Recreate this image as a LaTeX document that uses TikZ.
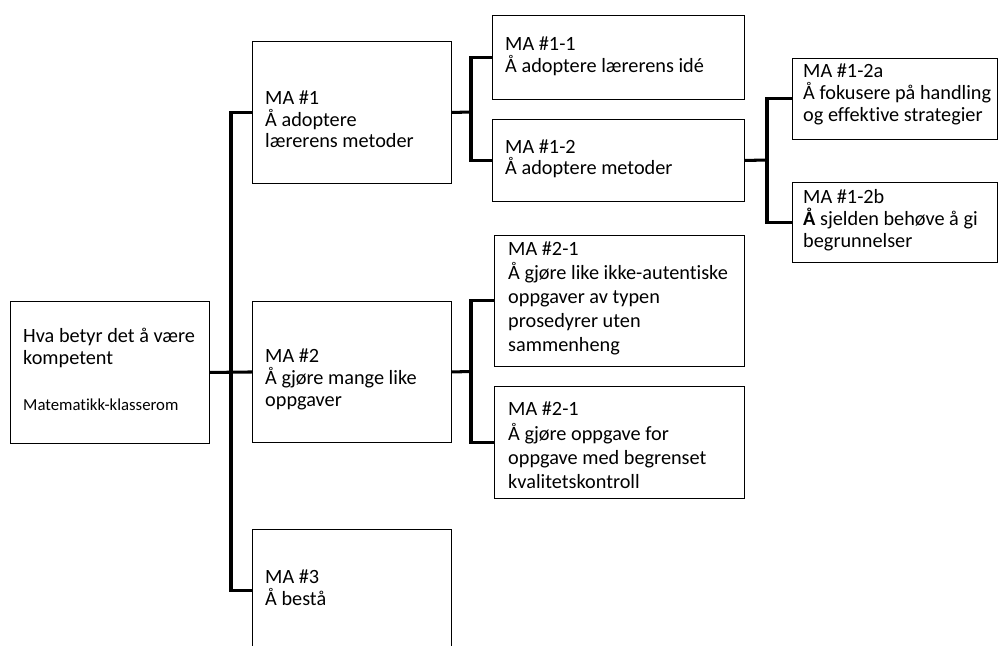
\documentclass[tikz,border=0pt]{standalone}
\usepackage{fontspec}
\setmainfont{Carlito}[Ligatures=NoCommon]

\begin{document}
\begin{tikzpicture}[x=0.03cm,y=-0.03cm,
  box/.style={draw=black,line width=0.8pt,inner sep=0pt,anchor=north west},
  boxsize/.style 2 args={minimum width=#1*0.03cm,minimum height=#2*0.03cm},
  link/.style={black,line width=2.6pt},
  txt/.style={text=black,anchor=base west,align=left,inner sep=0pt,
    font=\fontsize{17.3}{18.7}\selectfont},
  widetxt/.style={txt,font=\fontsize{17.3}{20.6}\selectfont},
  smalltxt/.style={txt,font=\fontsize{14.3}{16}\selectfont}]
\useasboundingbox (0,0) rectangle (999,646);
\clip (0,0) rectangle (999,646);

% boxes:
\path (10,301) node[box,boxsize={199}{142}] (root) {};
\path (252,41) node[box,boxsize={199}{142}] (ma1) {};
\path (252,301) node[box,boxsize={199}{141}] (ma2) {};
\path (252,529) node[box,boxsize={199}{123}] (ma3) {};
\path (492,15) node[box,boxsize={252}{84}] (ma11) {};
\path (492,119) node[box,boxsize={252}{82}] (ma12) {};
\path (792,58) node[box,boxsize={205}{81}] (ma12a) {};
\path (792,182) node[box,boxsize={205}{80}] (ma12b) {};
\path (494,235) node[box,boxsize={250}{131}] (ma21a) {};
\path (494,386) node[box,boxsize={250}{112}] (ma21b) {};

% texts (anchored at the last line):
\path (23,364) node[txt] (t-root) {Hva betyr det å være\\kompetent};
\path (23,410) node[smalltxt] (t-root-sub) {Matematikk-klasserom};
\path (265,148) node[txt] (t-ma1) {MA \#1\\Å adoptere\\lærerens metoder};
\path (265,406.7) node[txt] (t-ma2) {MA \#2\\Å gjøre mange like\\oppgaver};
\path (265,605.7) node[txt] (t-ma3) {MA \#3\\Å bestå};
\path (505,72.7) node[txt] (t-ma11) {MA \#1-1\\Å adoptere lærerens idé};
\path (505,175) node[txt] (t-ma12) {MA \#1-2\\Å adoptere metoder};
\path (803,121.7) node[txt] (t-ma12a) {MA \#1-2a\\Å fokusere på handling\\og effektive strategier};
\path (803,247) node[txt] (t-ma12b) {MA \#1-2b\\\textbf{Å} sjelden behøve å gi\\begrunnelser};
\path (508,351.7) node[widetxt] (t-ma21a) {MA \#2-1\\Å gjøre like ikke-autentiske\\oppgaver av typen\\prosedyrer uten\\sammenheng};
\path (508,488.3) node[widetxt] (t-ma21b) {MA \#2-1\\Å gjøre oppgave for\\oppgave med begrenset\\kvalitetskontroll};

% connectors:
\coordinate (bus1) at (231,371.5);
\coordinate (bus2) at (471,112);
\coordinate (bus3) at (471,371.5);
\coordinate (bus4) at (767,160);
\draw[link] (root.east) -- (ma2.west);
\draw[link] (ma1.west) -| (bus1) |- (ma3.west);
\draw[link] (ma1.east) -- (bus2);
\draw[link] (ma11.west) -| (bus2) |- (ma12.west);
\draw[link] (ma2.east) -- (bus3);
\draw[link] (ma21a.west) -| (bus3) |- (ma21b.west);
\draw[link] (ma12.east) -- (bus4);
\draw[link] (ma12a.west) -| (bus4) |- (ma12b.west);

\end{tikzpicture}
\end{document}
